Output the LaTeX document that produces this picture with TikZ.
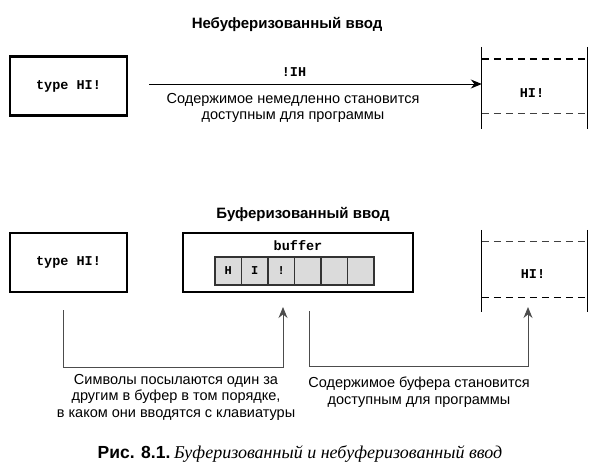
\documentclass[tikz,border=0pt]{standalone}
\usepackage{fontspec}
\setmainfont{Liberation Sans}
\setmonofont{Liberation Mono}
\newfontfamily\capserif{Liberation Serif}
\usetikzlibrary{arrows.meta}
\tikzset{
  thickbox/.style={draw=black, line width=2.6pt, minimum width=117pt, minimum height=59pt, inner sep=0pt},
  code/.style={font=\fontsize{13.5}{15}\ttfamily\bfseries, inner sep=0pt},
  body/.style={font=\fontsize{14.5}{16.5}\selectfont, align=center, inner sep=0pt},
  titletext/.style={font=\fontsize{15}{17}\selectfont\bfseries, inner sep=0pt},
  cell/.style={draw=black!80, line width=1.4pt, fill=black!14, minimum width=26.5pt, minimum height=28pt, inner sep=0pt, font=\fontsize{12}{14}\ttfamily\bfseries},
  mem/.style={minimum width=105pt, minimum height=82pt, inner sep=0pt},
  memside/.style={draw=black, line width=1.2pt},
  dashthick/.style={draw=black, line width=1.4pt, dash pattern=on 7pt off 5pt},
  dashthin/.style={draw=black!75, line width=0.9pt, dash pattern=on 7pt off 5pt},
  link/.style={draw=black!70, line width=1pt},
  arr/.style={-{Stealth[length=11pt,width=9pt]}},
}
\begin{document}
\begin{tikzpicture}[x=1pt,y=-1pt]
\useasboundingbox (0,0) rectangle (591,467);
% ---------- top: unbuffered ----------
\node[titletext] (t1) at (287,24) {Небуферизованный ввод};
\node[thickbox] (k1) at (68.5,86) {};
\node[code] (k1t) at (k1) {type HI!};
\node[mem] (m1) at (534.5,88) {};
\node[code] (m1t) at (532,93) {HI!};
\draw[memside] (m1.north west) -- (m1.south west);
\draw[memside] (m1.north east) -- (m1.south east);
\draw[dashthick] ([yshift=-12pt]m1.north west) -- ([yshift=-12pt]m1.north east);
\draw[dashthin] ([yshift=16pt]m1.south west) -- ([yshift=16pt]m1.south east);
\coordinate (a1s) at (149,84);
\coordinate (a1e) at (m1.west |- a1s);
\draw[black, line width=1pt, arr] (a1s) -- (a1e);
\node[code] (lbl1) at (294,72) {!IH};
\node[body] (d1) at (293,108) {Содержимое немедленно становится\\доступным для программы};
% ---------- bottom: buffered ----------
\node[titletext] (t2) at (303,214) {Буферизованный ввод};
\node[thickbox] (k2) at (68.5,262.5) {};
\node[code] (k2t) at (k2) {type HI!};
\node[draw=black, line width=2.6pt, minimum width=230pt, minimum height=59pt, inner sep=0pt] (buf) at (298,262.5) {};
\node[code] (buft) at (298,246) {buffer};
\node[cell] (c1) at (228.25,271) {H};
\node[cell] (c2) at (254.75,271) {I};
\node[cell] (c3) at (281.25,271) {!};
\node[cell] (c4) at (307.75,271) {};
\node[cell] (c5) at (334.25,271) {};
\node[cell] (c6) at (360.75,271) {};
\node[mem] (m2) at (534.5,271) {};
\node[code] (m2t) at (533,274) {HI!};
\draw[memside] (m2.north west) -- (m2.south west);
\draw[memside] (m2.north east) -- (m2.south east);
\draw[dashthin] ([yshift=-12pt]m2.north west) -- ([yshift=-12pt]m2.north east);
\draw[dashthick] ([yshift=15pt]m2.south west) -- ([yshift=15pt]m2.south east);
% connectors
\coordinate (p1) at (63,310);
\coordinate (p2) at (283,307);
\draw[link, arr] (p1) -- (63,367) -| (p2);
\coordinate (q1) at (309,311);
\coordinate (q2) at (528,307);
\draw[link, arr] (q1) -- (309,366) -| (q2);
\node[body] (d2) at (176,397) {Символы посылаются один за\\другим в буфер в том порядке,\\в каком они вводятся с клавиатуры};
\node[body] (d3) at (419,392) {Содержимое буфера становится\\доступным для программы};
% caption
\node[inner sep=0pt, anchor=base] (cap) at (300,458) {{\fontsize{17.5}{19}\selectfont\bfseries Рис. 8.1.} {\capserif\itshape\fontsize{18}{19}\selectfont Буферизованный и небуферизованный ввод}};
\end{tikzpicture}
\end{document}
